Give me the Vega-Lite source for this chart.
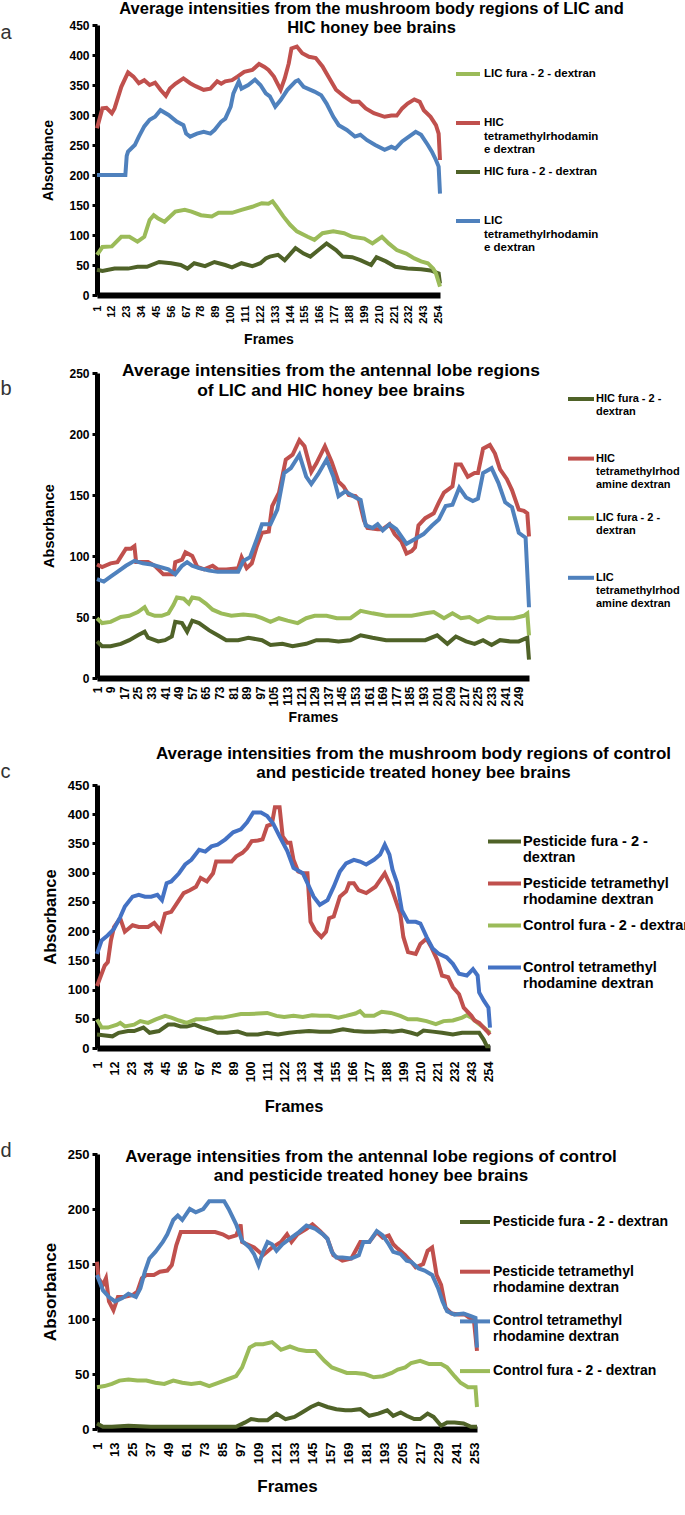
{
"$schema": "https://vega.github.io/schema/vega-lite/v6.json",
"padding": {"left": 0, "top": 0, "right": 0, "bottom": 0},
"background": "white",
"spacing": 14,
"config": {
 "font": "Liberation Sans",
 "view": {"stroke": null},
 "axis": {"domainColor": "black", "domainWidth": 5, "labelFont": "Liberation Sans", "labelFontWeight": "bold", "labelColor": "black", "titleFont": "Liberation Sans", "titleFontWeight": "bold", "titleColor": "black", "grid": false, "tickColor": "black", "labelOverlap": false, "labelBound": false, "labelFlush": false},
 "title": {"font": "Liberation Sans", "fontWeight": "bold", "color": "black", "anchor": "middle", "frame": "group"},
 "legend": {"orient": "none", "title": null, "symbolType": "stroke", "symbolStrokeWidth": 4, "labelFont": "Liberation Sans", "labelFontWeight": "bold", "labelColor": "black", "labelLimit": 400, "padding": 0}
},
"resolve": {"scale": {"x": "independent", "y": "independent", "color": "independent"}, "legend": {"color": "independent"}},
"datasets": {
 "names": [
  {"s": "LF", "series": "LIC fura - 2 - dextran"},
  {"s": "HF", "series": "HIC fura - 2 - dextran"},
  {"s": "LT", "series": "LIC tetramethylrhodamine dextran"},
  {"s": "HT", "series": "HIC tetramethylrhodamine dextran"},
  {"s": "PF", "series": "Pesticide fura - 2 - dextran"},
  {"s": "PT", "series": "Pesticide tetramethyl rhodamine dextran"},
  {"s": "CF", "series": "Control fura - 2 - dextran"},
  {"s": "CT", "series": "Control tetramethyl rhodamine dextran"}
 ],
 "a": [
  {"s":"HF","f":1,"v":42},{"s":"HF","f":5,"v":40},{"s":"HF","f":14,"v":44},{"s":"HF","f":24,"v":44},{"s":"HF","f":31,"v":47},{"s":"HF","f":38,"v":47},{"s":"HF","f":47,"v":55},{"s":"HF","f":56,"v":53},{"s":"HF","f":63,"v":50},{"s":"HF","f":68,"v":44},{"s":"HF","f":73,"v":53},{"s":"HF","f":81,"v":48},{"s":"HF","f":88,"v":55},{"s":"HF","f":96,"v":50},{"s":"HF","f":101,"v":46},{"s":"HF","f":108,"v":53},{"s":"HF","f":116,"v":48},{"s":"HF","f":122,"v":53},{"s":"HF","f":126,"v":61},{"s":"HF","f":129,"v":64},{"s":"HF","f":135,"v":67},{"s":"HF","f":140,"v":58},{"s":"HF","f":148,"v":78},{"s":"HF","f":154,"v":69},{"s":"HF","f":159,"v":64},{"s":"HF","f":165,"v":75},{"s":"HF","f":171,"v":86},{"s":"HF","f":178,"v":75},{"s":"HF","f":183,"v":64},{"s":"HF","f":190,"v":63},{"s":"HF","f":196,"v":58},{"s":"HF","f":204,"v":50},{"s":"HF","f":208,"v":63},{"s":"HF","f":215,"v":56},{"s":"HF","f":222,"v":47},{"s":"HF","f":231,"v":44},{"s":"HF","f":241,"v":43},{"s":"HF","f":248,"v":41},{"s":"HF","f":254,"v":36},{"s":"HF","f":255,"v":19},
  {"s":"LF","f":1,"v":67},{"s":"LF","f":5,"v":80},{"s":"LF","f":12,"v":81},{"s":"LF","f":19,"v":97},{"s":"LF","f":25,"v":97},{"s":"LF","f":31,"v":89},{"s":"LF","f":36,"v":97},{"s":"LF","f":38,"v":111},{"s":"LF","f":40,"v":125},{"s":"LF","f":43,"v":133},{"s":"LF","f":46,"v":128},{"s":"LF","f":51,"v":122},{"s":"LF","f":59,"v":139},{"s":"LF","f":66,"v":142},{"s":"LF","f":71,"v":139},{"s":"LF","f":78,"v":133},{"s":"LF","f":86,"v":131},{"s":"LF","f":91,"v":137},{"s":"LF","f":101,"v":137},{"s":"LF","f":108,"v":142},{"s":"LF","f":116,"v":147},{"s":"LF","f":123,"v":153},{"s":"LF","f":128,"v":152},{"s":"LF","f":131,"v":156},{"s":"LF","f":134,"v":147},{"s":"LF","f":139,"v":131},{"s":"LF","f":144,"v":117},{"s":"LF","f":149,"v":106},{"s":"LF","f":157,"v":97},{"s":"LF","f":162,"v":92},{"s":"LF","f":168,"v":103},{"s":"LF","f":176,"v":106},{"s":"LF","f":184,"v":103},{"s":"LF","f":190,"v":97},{"s":"LF","f":199,"v":94},{"s":"LF","f":205,"v":86},{"s":"LF","f":212,"v":97},{"s":"LF","f":217,"v":86},{"s":"LF","f":223,"v":75},{"s":"LF","f":230,"v":69},{"s":"LF","f":236,"v":61},{"s":"LF","f":241,"v":56},{"s":"LF","f":246,"v":53},{"s":"LF","f":250,"v":44},{"s":"LF","f":252,"v":36},{"s":"LF","f":255,"v":14},
  {"s":"HT","f":1,"v":278},{"s":"HT","f":5,"v":311},{"s":"HT","f":8,"v":312},{"s":"HT","f":12,"v":303},{"s":"HT","f":14,"v":311},{"s":"HT","f":19,"v":347},{"s":"HT","f":24,"v":371},{"s":"HT","f":28,"v":364},{"s":"HT","f":32,"v":353},{"s":"HT","f":36,"v":358},{"s":"HT","f":40,"v":350},{"s":"HT","f":44,"v":354},{"s":"HT","f":48,"v":342},{"s":"HT","f":52,"v":332},{"s":"HT","f":55,"v":344},{"s":"HT","f":59,"v":352},{"s":"HT","f":65,"v":361},{"s":"HT","f":70,"v":353},{"s":"HT","f":74,"v":348},{"s":"HT","f":80,"v":342},{"s":"HT","f":85,"v":344},{"s":"HT","f":90,"v":356},{"s":"HT","f":93,"v":352},{"s":"HT","f":96,"v":356},{"s":"HT","f":101,"v":358},{"s":"HT","f":105,"v":364},{"s":"HT","f":110,"v":372},{"s":"HT","f":116,"v":375},{"s":"HT","f":121,"v":385},{"s":"HT","f":125,"v":380},{"s":"HT","f":128,"v":375},{"s":"HT","f":132,"v":364},{"s":"HT","f":137,"v":342},{"s":"HT","f":140,"v":361},{"s":"HT","f":143,"v":386},{"s":"HT","f":145,"v":411},{"s":"HT","f":149,"v":414},{"s":"HT","f":153,"v":403},{"s":"HT","f":158,"v":397},{"s":"HT","f":163,"v":395},{"s":"HT","f":168,"v":381},{"s":"HT","f":171,"v":369},{"s":"HT","f":178,"v":342},{"s":"HT","f":184,"v":331},{"s":"HT","f":190,"v":322},{"s":"HT","f":195,"v":322},{"s":"HT","f":200,"v":311},{"s":"HT","f":206,"v":303},{"s":"HT","f":214,"v":297},{"s":"HT","f":219,"v":299},{"s":"HT","f":223,"v":299},{"s":"HT","f":227,"v":311},{"s":"HT","f":231,"v":319},{"s":"HT","f":236,"v":326},{"s":"HT","f":240,"v":322},{"s":"HT","f":243,"v":308},{"s":"HT","f":248,"v":297},{"s":"HT","f":252,"v":283},{"s":"HT","f":254,"v":269},{"s":"HT","f":255,"v":225},
  {"s":"LT","f":1,"v":200},{"s":"LT","f":22,"v":200},{"s":"LT","f":23,"v":232},{"s":"LT","f":24,"v":239},{"s":"LT","f":29,"v":250},{"s":"LT","f":32,"v":264},{"s":"LT","f":36,"v":281},{"s":"LT","f":40,"v":292},{"s":"LT","f":44,"v":297},{"s":"LT","f":48,"v":308},{"s":"LT","f":54,"v":300},{"s":"LT","f":60,"v":289},{"s":"LT","f":65,"v":283},{"s":"LT","f":67,"v":269},{"s":"LT","f":70,"v":264},{"s":"LT","f":75,"v":269},{"s":"LT","f":80,"v":272},{"s":"LT","f":85,"v":269},{"s":"LT","f":88,"v":275},{"s":"LT","f":93,"v":289},{"s":"LT","f":96,"v":294},{"s":"LT","f":100,"v":314},{"s":"LT","f":102,"v":336},{"s":"LT","f":106,"v":356},{"s":"LT","f":108,"v":344},{"s":"LT","f":113,"v":350},{"s":"LT","f":118,"v":359},{"s":"LT","f":122,"v":350},{"s":"LT","f":126,"v":336},{"s":"LT","f":129,"v":331},{"s":"LT","f":133,"v":314},{"s":"LT","f":137,"v":325},{"s":"LT","f":142,"v":342},{"s":"LT","f":148,"v":356},{"s":"LT","f":150,"v":358},{"s":"LT","f":154,"v":347},{"s":"LT","f":162,"v":339},{"s":"LT","f":167,"v":333},{"s":"LT","f":171,"v":319},{"s":"LT","f":176,"v":297},{"s":"LT","f":180,"v":283},{"s":"LT","f":186,"v":275},{"s":"LT","f":192,"v":264},{"s":"LT","f":196,"v":267},{"s":"LT","f":201,"v":258},{"s":"LT","f":207,"v":250},{"s":"LT","f":214,"v":242},{"s":"LT","f":219,"v":247},{"s":"LT","f":222,"v":244},{"s":"LT","f":227,"v":256},{"s":"LT","f":232,"v":264},{"s":"LT","f":237,"v":272},{"s":"LT","f":241,"v":267},{"s":"LT","f":246,"v":250},{"s":"LT","f":249,"v":239},{"s":"LT","f":252,"v":225},{"s":"LT","f":254,"v":214},{"s":"LT","f":255,"v":169}
 ],
 "b": [
  {"s":"HF","f":1,"v":30},{"s":"HF","f":4,"v":26},{"s":"HF","f":9,"v":26},{"s":"HF","f":15,"v":28},{"s":"HF","f":20,"v":31},{"s":"HF","f":25,"v":35},{"s":"HF","f":29,"v":38},{"s":"HF","f":31,"v":33},{"s":"HF","f":37,"v":30},{"s":"HF","f":41,"v":31},{"s":"HF","f":45,"v":34},{"s":"HF","f":47,"v":46},{"s":"HF","f":51,"v":45},{"s":"HF","f":54,"v":38},{"s":"HF","f":57,"v":47},{"s":"HF","f":61,"v":45},{"s":"HF","f":67,"v":39},{"s":"HF","f":72,"v":35},{"s":"HF","f":77,"v":31},{"s":"HF","f":84,"v":31},{"s":"HF","f":90,"v":33},{"s":"HF","f":98,"v":31},{"s":"HF","f":103,"v":27},{"s":"HF","f":110,"v":28},{"s":"HF","f":116,"v":26},{"s":"HF","f":124,"v":28},{"s":"HF","f":130,"v":31},{"s":"HF","f":137,"v":31},{"s":"HF","f":143,"v":30},{"s":"HF","f":150,"v":31},{"s":"HF","f":156,"v":35},{"s":"HF","f":163,"v":33},{"s":"HF","f":171,"v":31},{"s":"HF","f":179,"v":31},{"s":"HF","f":186,"v":31},{"s":"HF","f":194,"v":31},{"s":"HF","f":201,"v":35},{"s":"HF","f":207,"v":28},{"s":"HF","f":212,"v":34},{"s":"HF","f":218,"v":30},{"s":"HF","f":223,"v":28},{"s":"HF","f":228,"v":31},{"s":"HF","f":233,"v":27},{"s":"HF","f":238,"v":31},{"s":"HF","f":244,"v":30},{"s":"HF","f":249,"v":30},{"s":"HF","f":254,"v":33},{"s":"HF","f":255,"v":15},
  {"s":"LF","f":1,"v":49},{"s":"LF","f":4,"v":45},{"s":"LF","f":9,"v":46},{"s":"LF","f":15,"v":50},{"s":"LF","f":20,"v":51},{"s":"LF","f":25,"v":54},{"s":"LF","f":29,"v":58},{"s":"LF","f":31,"v":53},{"s":"LF","f":35,"v":51},{"s":"LF","f":39,"v":51},{"s":"LF","f":43,"v":53},{"s":"LF","f":46,"v":60},{"s":"LF","f":48,"v":66},{"s":"LF","f":52,"v":65},{"s":"LF","f":55,"v":61},{"s":"LF","f":57,"v":66},{"s":"LF","f":61,"v":65},{"s":"LF","f":65,"v":61},{"s":"LF","f":69,"v":56},{"s":"LF","f":74,"v":53},{"s":"LF","f":80,"v":51},{"s":"LF","f":87,"v":52},{"s":"LF","f":94,"v":51},{"s":"LF","f":98,"v":49},{"s":"LF","f":103,"v":46},{"s":"LF","f":108,"v":49},{"s":"LF","f":113,"v":47},{"s":"LF","f":119,"v":45},{"s":"LF","f":124,"v":49},{"s":"LF","f":129,"v":51},{"s":"LF","f":136,"v":51},{"s":"LF","f":142,"v":49},{"s":"LF","f":150,"v":49},{"s":"LF","f":156,"v":55},{"s":"LF","f":163,"v":53},{"s":"LF","f":171,"v":51},{"s":"LF","f":179,"v":51},{"s":"LF","f":186,"v":51},{"s":"LF","f":194,"v":53},{"s":"LF","f":199,"v":54},{"s":"LF","f":205,"v":49},{"s":"LF","f":210,"v":53},{"s":"LF","f":215,"v":49},{"s":"LF","f":220,"v":50},{"s":"LF","f":225,"v":46},{"s":"LF","f":231,"v":50},{"s":"LF","f":236,"v":49},{"s":"LF","f":241,"v":49},{"s":"LF","f":246,"v":49},{"s":"LF","f":252,"v":51},{"s":"LF","f":254,"v":53},{"s":"LF","f":255,"v":35},
  {"s":"HT","f":1,"v":93},{"s":"HT","f":4,"v":91},{"s":"HT","f":9,"v":94},{"s":"HT","f":13,"v":95},{"s":"HT","f":18,"v":106},{"s":"HT","f":21,"v":106},{"s":"HT","f":23,"v":108},{"s":"HT","f":24,"v":95},{"s":"HT","f":31,"v":95},{"s":"HT","f":35,"v":92},{"s":"HT","f":40,"v":85},{"s":"HT","f":46,"v":85},{"s":"HT","f":47,"v":95},{"s":"HT","f":51,"v":97},{"s":"HT","f":53,"v":103},{"s":"HT","f":57,"v":100},{"s":"HT","f":60,"v":91},{"s":"HT","f":64,"v":89},{"s":"HT","f":69,"v":92},{"s":"HT","f":72,"v":89},{"s":"HT","f":77,"v":89},{"s":"HT","f":84,"v":90},{"s":"HT","f":86,"v":99},{"s":"HT","f":89,"v":90},{"s":"HT","f":92,"v":94},{"s":"HT","f":95,"v":108},{"s":"HT","f":98,"v":119},{"s":"HT","f":102,"v":120},{"s":"HT","f":104,"v":141},{"s":"HT","f":108,"v":152},{"s":"HT","f":112,"v":179},{"s":"HT","f":116,"v":183},{"s":"HT","f":120,"v":195},{"s":"HT","f":123,"v":190},{"s":"HT","f":127,"v":169},{"s":"HT","f":130,"v":176},{"s":"HT","f":135,"v":190},{"s":"HT","f":139,"v":177},{"s":"HT","f":143,"v":161},{"s":"HT","f":146,"v":157},{"s":"HT","f":149,"v":150},{"s":"HT","f":153,"v":149},{"s":"HT","f":155,"v":146},{"s":"HT","f":158,"v":129},{"s":"HT","f":160,"v":123},{"s":"HT","f":166,"v":122},{"s":"HT","f":169,"v":122},{"s":"HT","f":173,"v":126},{"s":"HT","f":176,"v":118},{"s":"HT","f":180,"v":112},{"s":"HT","f":183,"v":102},{"s":"HT","f":186,"v":104},{"s":"HT","f":188,"v":107},{"s":"HT","f":190,"v":125},{"s":"HT","f":194,"v":131},{"s":"HT","f":199,"v":135},{"s":"HT","f":202,"v":144},{"s":"HT","f":205,"v":152},{"s":"HT","f":210,"v":157},{"s":"HT","f":212,"v":175},{"s":"HT","f":215,"v":175},{"s":"HT","f":219,"v":165},{"s":"HT","f":223,"v":168},{"s":"HT","f":225,"v":168},{"s":"HT","f":228,"v":188},{"s":"HT","f":232,"v":191},{"s":"HT","f":235,"v":184},{"s":"HT","f":238,"v":171},{"s":"HT","f":242,"v":163},{"s":"HT","f":245,"v":154},{"s":"HT","f":249,"v":138},{"s":"HT","f":252,"v":137},{"s":"HT","f":254,"v":135},{"s":"HT","f":255,"v":116},
  {"s":"LT","f":1,"v":81},{"s":"LT","f":5,"v":79},{"s":"LT","f":9,"v":83},{"s":"LT","f":13,"v":87},{"s":"LT","f":18,"v":92},{"s":"LT","f":23,"v":96},{"s":"LT","f":28,"v":94},{"s":"LT","f":33,"v":93},{"s":"LT","f":38,"v":91},{"s":"LT","f":43,"v":89},{"s":"LT","f":47,"v":85},{"s":"LT","f":51,"v":92},{"s":"LT","f":54,"v":95},{"s":"LT","f":57,"v":92},{"s":"LT","f":61,"v":90},{"s":"LT","f":67,"v":88},{"s":"LT","f":72,"v":87},{"s":"LT","f":78,"v":87},{"s":"LT","f":84,"v":87},{"s":"LT","f":87,"v":96},{"s":"LT","f":91,"v":99},{"s":"LT","f":95,"v":114},{"s":"LT","f":98,"v":126},{"s":"LT","f":103,"v":126},{"s":"LT","f":107,"v":138},{"s":"LT","f":111,"v":168},{"s":"LT","f":115,"v":172},{"s":"LT","f":120,"v":183},{"s":"LT","f":124,"v":165},{"s":"LT","f":127,"v":159},{"s":"LT","f":131,"v":167},{"s":"LT","f":136,"v":179},{"s":"LT","f":140,"v":165},{"s":"LT","f":143,"v":149},{"s":"LT","f":147,"v":153},{"s":"LT","f":153,"v":148},{"s":"LT","f":156,"v":146},{"s":"LT","f":159,"v":125},{"s":"LT","f":163,"v":123},{"s":"LT","f":166,"v":126},{"s":"LT","f":169,"v":121},{"s":"LT","f":173,"v":126},{"s":"LT","f":177,"v":122},{"s":"LT","f":183,"v":110},{"s":"LT","f":188,"v":114},{"s":"LT","f":193,"v":118},{"s":"LT","f":198,"v":125},{"s":"LT","f":202,"v":130},{"s":"LT","f":206,"v":141},{"s":"LT","f":210,"v":142},{"s":"LT","f":214,"v":156},{"s":"LT","f":218,"v":148},{"s":"LT","f":222,"v":145},{"s":"LT","f":225,"v":147},{"s":"LT","f":228,"v":168},{"s":"LT","f":233,"v":172},{"s":"LT","f":237,"v":160},{"s":"LT","f":241,"v":144},{"s":"LT","f":245,"v":140},{"s":"LT","f":249,"v":119},{"s":"LT","f":253,"v":115},{"s":"LT","f":255,"v":58}
 ],
 "c": [
  {"s":"PF","f":1,"v":23},{"s":"PF","f":5,"v":22},{"s":"PF","f":11,"v":20},{"s":"PF","f":15,"v":26},{"s":"PF","f":21,"v":29},{"s":"PF","f":25,"v":29},{"s":"PF","f":31,"v":35},{"s":"PF","f":35,"v":26},{"s":"PF","f":41,"v":29},{"s":"PF","f":47,"v":40},{"s":"PF","f":51,"v":40},{"s":"PF","f":55,"v":37},{"s":"PF","f":59,"v":37},{"s":"PF","f":64,"v":40},{"s":"PF","f":69,"v":35},{"s":"PF","f":75,"v":30},{"s":"PF","f":79,"v":26},{"s":"PF","f":85,"v":26},{"s":"PF","f":92,"v":28},{"s":"PF","f":98,"v":23},{"s":"PF","f":105,"v":23},{"s":"PF","f":111,"v":26},{"s":"PF","f":118,"v":23},{"s":"PF","f":125,"v":26},{"s":"PF","f":132,"v":28},{"s":"PF","f":138,"v":29},{"s":"PF","f":145,"v":28},{"s":"PF","f":152,"v":28},{"s":"PF","f":160,"v":32},{"s":"PF","f":167,"v":29},{"s":"PF","f":174,"v":28},{"s":"PF","f":180,"v":28},{"s":"PF","f":187,"v":29},{"s":"PF","f":192,"v":28},{"s":"PF","f":198,"v":30},{"s":"PF","f":204,"v":26},{"s":"PF","f":208,"v":23},{"s":"PF","f":212,"v":30},{"s":"PF","f":218,"v":28},{"s":"PF","f":224,"v":26},{"s":"PF","f":231,"v":23},{"s":"PF","f":237,"v":26},{"s":"PF","f":243,"v":26},{"s":"PF","f":248,"v":26},{"s":"PF","f":251,"v":14},{"s":"PF","f":253,"v":3},{"s":"PF","f":255,"v":3},
  {"s":"CF","f":1,"v":49},{"s":"CF","f":4,"v":35},{"s":"CF","f":8,"v":35},{"s":"CF","f":14,"v":40},{"s":"CF","f":16,"v":43},{"s":"CF","f":19,"v":37},{"s":"CF","f":25,"v":40},{"s":"CF","f":29,"v":46},{"s":"CF","f":34,"v":43},{"s":"CF","f":39,"v":49},{"s":"CF","f":45,"v":55},{"s":"CF","f":49,"v":52},{"s":"CF","f":54,"v":47},{"s":"CF","f":59,"v":43},{"s":"CF","f":65,"v":49},{"s":"CF","f":71,"v":49},{"s":"CF","f":77,"v":52},{"s":"CF","f":82,"v":52},{"s":"CF","f":88,"v":55},{"s":"CF","f":94,"v":58},{"s":"CF","f":99,"v":58},{"s":"CF","f":105,"v":59},{"s":"CF","f":111,"v":60},{"s":"CF","f":117,"v":55},{"s":"CF","f":122,"v":53},{"s":"CF","f":128,"v":55},{"s":"CF","f":134,"v":53},{"s":"CF","f":140,"v":56},{"s":"CF","f":145,"v":55},{"s":"CF","f":151,"v":55},{"s":"CF","f":157,"v":52},{"s":"CF","f":162,"v":55},{"s":"CF","f":168,"v":59},{"s":"CF","f":171,"v":63},{"s":"CF","f":174,"v":55},{"s":"CF","f":180,"v":55},{"s":"CF","f":185,"v":62},{"s":"CF","f":191,"v":60},{"s":"CF","f":197,"v":55},{"s":"CF","f":202,"v":49},{"s":"CF","f":208,"v":49},{"s":"CF","f":214,"v":46},{"s":"CF","f":220,"v":41},{"s":"CF","f":225,"v":46},{"s":"CF","f":231,"v":47},{"s":"CF","f":237,"v":52},{"s":"CF","f":240,"v":56},{"s":"CF","f":243,"v":52},{"s":"CF","f":247,"v":43},{"s":"CF","f":251,"v":35},{"s":"CF","f":255,"v":26},
  {"s":"PT","f":1,"v":106},{"s":"PT","f":4,"v":127},{"s":"PT","f":6,"v":141},{"s":"PT","f":8,"v":147},{"s":"PT","f":10,"v":184},{"s":"PT","f":12,"v":207},{"s":"PT","f":16,"v":222},{"s":"PT","f":19,"v":199},{"s":"PT","f":24,"v":210},{"s":"PT","f":28,"v":207},{"s":"PT","f":34,"v":207},{"s":"PT","f":38,"v":214},{"s":"PT","f":42,"v":201},{"s":"PT","f":45,"v":230},{"s":"PT","f":49,"v":233},{"s":"PT","f":54,"v":253},{"s":"PT","f":57,"v":265},{"s":"PT","f":61,"v":270},{"s":"PT","f":65,"v":276},{"s":"PT","f":68,"v":291},{"s":"PT","f":72,"v":285},{"s":"PT","f":76,"v":299},{"s":"PT","f":78,"v":319},{"s":"PT","f":82,"v":319},{"s":"PT","f":88,"v":319},{"s":"PT","f":91,"v":328},{"s":"PT","f":95,"v":334},{"s":"PT","f":98,"v":342},{"s":"PT","f":101,"v":354},{"s":"PT","f":105,"v":355},{"s":"PT","f":108,"v":357},{"s":"PT","f":111,"v":380},{"s":"PT","f":114,"v":383},{"s":"PT","f":116,"v":412},{"s":"PT","f":119,"v":412},{"s":"PT","f":121,"v":362},{"s":"PT","f":124,"v":351},{"s":"PT","f":126,"v":351},{"s":"PT","f":128,"v":322},{"s":"PT","f":131,"v":302},{"s":"PT","f":134,"v":299},{"s":"PT","f":137,"v":299},{"s":"PT","f":139,"v":216},{"s":"PT","f":142,"v":201},{"s":"PT","f":146,"v":190},{"s":"PT","f":149,"v":199},{"s":"PT","f":151,"v":222},{"s":"PT","f":154,"v":225},{"s":"PT","f":158,"v":259},{"s":"PT","f":162,"v":268},{"s":"PT","f":164,"v":282},{"s":"PT","f":167,"v":282},{"s":"PT","f":170,"v":270},{"s":"PT","f":175,"v":265},{"s":"PT","f":181,"v":276},{"s":"PT","f":187,"v":299},{"s":"PT","f":191,"v":276},{"s":"PT","f":194,"v":253},{"s":"PT","f":197,"v":230},{"s":"PT","f":199,"v":190},{"s":"PT","f":202,"v":164},{"s":"PT","f":207,"v":161},{"s":"PT","f":210,"v":178},{"s":"PT","f":214,"v":187},{"s":"PT","f":217,"v":173},{"s":"PT","f":221,"v":150},{"s":"PT","f":224,"v":124},{"s":"PT","f":228,"v":121},{"s":"PT","f":231,"v":104},{"s":"PT","f":235,"v":92},{"s":"PT","f":238,"v":69},{"s":"PT","f":243,"v":55},{"s":"PT","f":245,"v":47},{"s":"PT","f":248,"v":43},{"s":"PT","f":253,"v":29},{"s":"PT","f":255,"v":23},
  {"s":"CT","f":1,"v":161},{"s":"CT","f":4,"v":184},{"s":"CT","f":8,"v":193},{"s":"CT","f":12,"v":204},{"s":"CT","f":16,"v":224},{"s":"CT","f":19,"v":242},{"s":"CT","f":24,"v":259},{"s":"CT","f":28,"v":262},{"s":"CT","f":32,"v":259},{"s":"CT","f":36,"v":259},{"s":"CT","f":40,"v":262},{"s":"CT","f":43,"v":253},{"s":"CT","f":46,"v":282},{"s":"CT","f":49,"v":285},{"s":"CT","f":54,"v":299},{"s":"CT","f":58,"v":314},{"s":"CT","f":62,"v":322},{"s":"CT","f":67,"v":339},{"s":"CT","f":71,"v":336},{"s":"CT","f":75,"v":345},{"s":"CT","f":79,"v":348},{"s":"CT","f":84,"v":357},{"s":"CT","f":89,"v":369},{"s":"CT","f":94,"v":374},{"s":"CT","f":98,"v":386},{"s":"CT","f":102,"v":403},{"s":"CT","f":107,"v":403},{"s":"CT","f":111,"v":397},{"s":"CT","f":115,"v":383},{"s":"CT","f":119,"v":362},{"s":"CT","f":124,"v":337},{"s":"CT","f":128,"v":308},{"s":"CT","f":134,"v":299},{"s":"CT","f":137,"v":282},{"s":"CT","f":141,"v":259},{"s":"CT","f":145,"v":245},{"s":"CT","f":150,"v":253},{"s":"CT","f":154,"v":276},{"s":"CT","f":158,"v":302},{"s":"CT","f":162,"v":316},{"s":"CT","f":167,"v":322},{"s":"CT","f":171,"v":319},{"s":"CT","f":175,"v":314},{"s":"CT","f":180,"v":322},{"s":"CT","f":184,"v":331},{"s":"CT","f":187,"v":348},{"s":"CT","f":190,"v":331},{"s":"CT","f":192,"v":305},{"s":"CT","f":195,"v":282},{"s":"CT","f":198,"v":236},{"s":"CT","f":202,"v":216},{"s":"CT","f":207,"v":216},{"s":"CT","f":210,"v":213},{"s":"CT","f":214,"v":190},{"s":"CT","f":218,"v":170},{"s":"CT","f":222,"v":161},{"s":"CT","f":227,"v":155},{"s":"CT","f":231,"v":144},{"s":"CT","f":235,"v":127},{"s":"CT","f":240,"v":124},{"s":"CT","f":244,"v":135},{"s":"CT","f":247,"v":124},{"s":"CT","f":248,"v":95},{"s":"CT","f":251,"v":81},{"s":"CT","f":254,"v":69},{"s":"CT","f":255,"v":35}
 ],
 "d": [
  {"s":"PF","f":1,"v":5},{"s":"PF","f":5,"v":2},{"s":"PF","f":11,"v":2},{"s":"PF","f":22,"v":3},{"s":"PF","f":37,"v":2},{"s":"PF","f":52,"v":2},{"s":"PF","f":67,"v":2},{"s":"PF","f":82,"v":2},{"s":"PF","f":94,"v":2},{"s":"PF","f":100,"v":6},{"s":"PF","f":104,"v":9},{"s":"PF","f":109,"v":8},{"s":"PF","f":115,"v":8},{"s":"PF","f":121,"v":14},{"s":"PF","f":127,"v":9},{"s":"PF","f":133,"v":11},{"s":"PF","f":138,"v":15},{"s":"PF","f":144,"v":20},{"s":"PF","f":149,"v":23},{"s":"PF","f":155,"v":20},{"s":"PF","f":161,"v":18},{"s":"PF","f":167,"v":17},{"s":"PF","f":171,"v":17},{"s":"PF","f":177,"v":18},{"s":"PF","f":183,"v":12},{"s":"PF","f":189,"v":14},{"s":"PF","f":195,"v":17},{"s":"PF","f":199,"v":12},{"s":"PF","f":204,"v":15},{"s":"PF","f":208,"v":12},{"s":"PF","f":213,"v":9},{"s":"PF","f":217,"v":9},{"s":"PF","f":222,"v":14},{"s":"PF","f":226,"v":11},{"s":"PF","f":231,"v":3},{"s":"PF","f":235,"v":6},{"s":"PF","f":240,"v":6},{"s":"PF","f":246,"v":5},{"s":"PF","f":251,"v":2},{"s":"PF","f":255,"v":2},
  {"s":"CF","f":1,"v":38},{"s":"CF","f":6,"v":39},{"s":"CF","f":11,"v":41},{"s":"CF","f":16,"v":44},{"s":"CF","f":22,"v":45},{"s":"CF","f":28,"v":44},{"s":"CF","f":34,"v":44},{"s":"CF","f":40,"v":42},{"s":"CF","f":46,"v":41},{"s":"CF","f":52,"v":44},{"s":"CF","f":58,"v":42},{"s":"CF","f":64,"v":41},{"s":"CF","f":70,"v":42},{"s":"CF","f":76,"v":39},{"s":"CF","f":82,"v":42},{"s":"CF","f":88,"v":45},{"s":"CF","f":94,"v":48},{"s":"CF","f":98,"v":56},{"s":"CF","f":103,"v":74},{"s":"CF","f":107,"v":77},{"s":"CF","f":112,"v":77},{"s":"CF","f":118,"v":79},{"s":"CF","f":124,"v":72},{"s":"CF","f":130,"v":75},{"s":"CF","f":136,"v":72},{"s":"CF","f":141,"v":71},{"s":"CF","f":147,"v":71},{"s":"CF","f":153,"v":62},{"s":"CF","f":158,"v":56},{"s":"CF","f":162,"v":54},{"s":"CF","f":168,"v":51},{"s":"CF","f":174,"v":51},{"s":"CF","f":180,"v":50},{"s":"CF","f":186,"v":47},{"s":"CF","f":192,"v":48},{"s":"CF","f":198,"v":51},{"s":"CF","f":202,"v":54},{"s":"CF","f":207,"v":56},{"s":"CF","f":211,"v":60},{"s":"CF","f":217,"v":62},{"s":"CF","f":223,"v":59},{"s":"CF","f":228,"v":59},{"s":"CF","f":231,"v":59},{"s":"CF","f":235,"v":56},{"s":"CF","f":240,"v":48},{"s":"CF","f":244,"v":42},{"s":"CF","f":249,"v":38},{"s":"CF","f":254,"v":38},{"s":"CF","f":255,"v":20},
  {"s":"PT","f":1,"v":152},{"s":"PT","f":2,"v":137},{"s":"PT","f":5,"v":131},{"s":"PT","f":7,"v":137},{"s":"PT","f":9,"v":116},{"s":"PT","f":12,"v":108},{"s":"PT","f":15,"v":120},{"s":"PT","f":19,"v":120},{"s":"PT","f":25,"v":122},{"s":"PT","f":28,"v":125},{"s":"PT","f":31,"v":137},{"s":"PT","f":34,"v":140},{"s":"PT","f":39,"v":140},{"s":"PT","f":43,"v":143},{"s":"PT","f":48,"v":144},{"s":"PT","f":51,"v":149},{"s":"PT","f":54,"v":167},{"s":"PT","f":57,"v":179},{"s":"PT","f":64,"v":179},{"s":"PT","f":73,"v":179},{"s":"PT","f":80,"v":179},{"s":"PT","f":85,"v":177},{"s":"PT","f":89,"v":174},{"s":"PT","f":94,"v":176},{"s":"PT","f":97,"v":186},{"s":"PT","f":98,"v":170},{"s":"PT","f":106,"v":165},{"s":"PT","f":112,"v":158},{"s":"PT","f":118,"v":165},{"s":"PT","f":124,"v":170},{"s":"PT","f":128,"v":177},{"s":"PT","f":131,"v":170},{"s":"PT","f":135,"v":177},{"s":"PT","f":141,"v":182},{"s":"PT","f":145,"v":186},{"s":"PT","f":150,"v":180},{"s":"PT","f":155,"v":173},{"s":"PT","f":159,"v":158},{"s":"PT","f":165,"v":153},{"s":"PT","f":171,"v":155},{"s":"PT","f":177,"v":170},{"s":"PT","f":183,"v":170},{"s":"PT","f":188,"v":179},{"s":"PT","f":192,"v":174},{"s":"PT","f":196,"v":176},{"s":"PT","f":199,"v":168},{"s":"PT","f":202,"v":164},{"s":"PT","f":207,"v":158},{"s":"PT","f":211,"v":152},{"s":"PT","f":214,"v":147},{"s":"PT","f":219,"v":150},{"s":"PT","f":222,"v":162},{"s":"PT","f":225,"v":165},{"s":"PT","f":228,"v":140},{"s":"PT","f":231,"v":131},{"s":"PT","f":234,"v":110},{"s":"PT","f":238,"v":105},{"s":"PT","f":243,"v":104},{"s":"PT","f":247,"v":104},{"s":"PT","f":253,"v":98},{"s":"PT","f":255,"v":71},
  {"s":"CT","f":1,"v":140},{"s":"CT","f":5,"v":126},{"s":"CT","f":9,"v":120},{"s":"CT","f":13,"v":116},{"s":"CT","f":18,"v":119},{"s":"CT","f":22,"v":123},{"s":"CT","f":27,"v":120},{"s":"CT","f":30,"v":128},{"s":"CT","f":33,"v":143},{"s":"CT","f":36,"v":155},{"s":"CT","f":40,"v":161},{"s":"CT","f":45,"v":170},{"s":"CT","f":48,"v":177},{"s":"CT","f":52,"v":190},{"s":"CT","f":55,"v":194},{"s":"CT","f":58,"v":190},{"s":"CT","f":63,"v":200},{"s":"CT","f":67,"v":197},{"s":"CT","f":72,"v":200},{"s":"CT","f":76,"v":207},{"s":"CT","f":82,"v":207},{"s":"CT","f":86,"v":207},{"s":"CT","f":89,"v":200},{"s":"CT","f":94,"v":186},{"s":"CT","f":98,"v":171},{"s":"CT","f":103,"v":165},{"s":"CT","f":106,"v":159},{"s":"CT","f":109,"v":149},{"s":"CT","f":112,"v":161},{"s":"CT","f":115,"v":170},{"s":"CT","f":118,"v":168},{"s":"CT","f":121,"v":162},{"s":"CT","f":125,"v":168},{"s":"CT","f":130,"v":173},{"s":"CT","f":136,"v":179},{"s":"CT","f":141,"v":185},{"s":"CT","f":147,"v":182},{"s":"CT","f":152,"v":177},{"s":"CT","f":155,"v":173},{"s":"CT","f":158,"v":161},{"s":"CT","f":161,"v":156},{"s":"CT","f":165,"v":156},{"s":"CT","f":171,"v":155},{"s":"CT","f":176,"v":158},{"s":"CT","f":179,"v":170},{"s":"CT","f":183,"v":170},{"s":"CT","f":188,"v":180},{"s":"CT","f":192,"v":176},{"s":"CT","f":196,"v":168},{"s":"CT","f":199,"v":161},{"s":"CT","f":204,"v":159},{"s":"CT","f":208,"v":153},{"s":"CT","f":211,"v":152},{"s":"CT","f":216,"v":146},{"s":"CT","f":220,"v":144},{"s":"CT","f":225,"v":140},{"s":"CT","f":229,"v":128},{"s":"CT","f":232,"v":116},{"s":"CT","f":235,"v":107},{"s":"CT","f":240,"v":104},{"s":"CT","f":246,"v":105},{"s":"CT","f":250,"v":103},{"s":"CT","f":254,"v":101},{"s":"CT","f":255,"v":74}
 ]
},
"vconcat": [
 {
  "data": {"name": "a"},
  "transform": [{"lookup": "s", "from": {"data": {"name": "names"}, "key": "s", "fields": ["series"]}}],
  "width": 343, "height": 270,
  "title": {"text": ["Average intensities from the mushroom body regions of LIC and", "HIC honey bee brains"], "fontSize": 16.5, "lineHeight": 19, "dx": 103, "offset": -17},
  "resolve": {"axis": {"y": "independent"}},
  "layer": [
   {
    "mark": {"type": "line", "strokeWidth": 4},
    "encoding": {
     "x": {"field": "f", "type": "quantitative", "scale": {"domain": [1, 255], "nice": false, "zero": false},
      "axis": {"values": [1,12,23,34,45,56,67,78,89,100,111,122,133,144,155,166,177,188,199,210,221,232,243,254], "labelAngle": -90, "labelFontSize": 11, "ticks": false, "tickSize": 0, "labelPadding": 10, "domainWidth": 6, "title": "Frames", "titleFontSize": 14, "titlePadding": 9}},
     "y": {"field": "v", "type": "quantitative", "scale": {"domain": [0, 450], "nice": false},
      "axis": {"values": [0,50,100,150,200,250,300,350,400,450], "labelFontSize": 12, "tickSize": 5, "tickWidth": 3, "labelPadding": 3, "title": "Absorbance", "titleFontSize": 14, "titlePadding": 13}},
     "color": {"field": "series", "type": "nominal",
      "scale": {"domain": ["LIC fura - 2 - dextran", "HIC tetramethylrhodamine dextran", "HIC fura - 2 - dextran", "LIC tetramethylrhodamine dextran"], "range": ["#9BBB59", "#C0504D", "#4F6228", "#4F81BD"]},
      "legend": {"legendX": 357, "legendY": 35, "symbolSize": 576, "labelFontSize": 11.5, "labelOffset": 2, "rowPadding": 2,
       "labelExpr": "datum.label == 'HIC tetramethylrhodamine dextran' ? ['HIC','tetramethylrhodamin','e dextran'] : datum.label == 'LIC tetramethylrhodamine dextran' ? ['LIC','tetramethylrhodamin','e dextran'] : [datum.label,'','']"}}
    }
   },
   {
    "mark": {"type": "point", "opacity": 0},
    "encoding": {
     "y": {"field": "v", "type": "quantitative", "axis": {"orient": "left", "domain": false, "ticks": false, "labels": false, "title": "a", "titleX": -97, "titleY": 7, "titleAngle": 0, "titleAlign": "left", "titleBaseline": "middle", "titleFontWeight": "normal", "titleFontSize": 20, "titleColor": "#333333"}}
    }
   }
  ]
 },
 {
  "data": {"name": "b"},
  "transform": [{"lookup": "s", "from": {"data": {"name": "names"}, "key": "s", "fields": ["series"]}}],
  "width": 432, "height": 305,
  "title": {"text": ["Average intensities from the antennal lobe regions", "of LIC and HIC honey bee brains"], "fontSize": 17.4, "lineHeight": 20, "dx": 18, "offset": -32},
  "resolve": {"axis": {"y": "independent"}},
  "layer": [
   {
    "mark": {"type": "line", "strokeWidth": 4},
    "encoding": {
     "x": {"field": "f", "type": "quantitative", "scale": {"domain": [1, 255], "nice": false, "zero": false},
      "axis": {"values": [1,9,17,25,33,41,49,57,65,73,81,89,97,105,113,121,129,137,145,153,161,169,177,185,193,201,209,217,225,233,241,249], "labelAngle": -90, "labelFontSize": 12, "ticks": false, "tickSize": 0, "labelPadding": 8, "domainWidth": 6, "title": ["Frames", ""], "titleLineHeight": 6, "titleFontSize": 14, "titlePadding": 4}},
     "y": {"field": "v", "type": "quantitative", "scale": {"domain": [0, 250], "nice": false},
      "axis": {"values": [0,50,100,150,200,250], "labelFontSize": 12, "tickSize": 5, "tickWidth": 3, "labelPadding": 3, "title": "Absorbance", "titleFontSize": 14.5, "titlePadding": 12}},
     "color": {"field": "series", "type": "nominal",
      "scale": {"domain": ["HIC fura - 2 - dextran", "HIC tetramethylrhodamine dextran", "LIC fura - 2 - dextran", "LIC tetramethylrhodamine dextran"], "range": ["#4F6228", "#C0504D", "#9BBB59", "#4F81BD"]},
      "legend": {"legendX": 469, "legendY": 11, "symbolSize": 676, "labelFontSize": 11, "labelOffset": 0, "rowPadding": 13.6,
       "labelExpr": "datum.label == 'HIC fura - 2 - dextran' ? ['HIC fura - 2 -','dextran',''] : datum.label == 'LIC fura - 2 - dextran' ? ['LIC fura - 2 -','dextran',''] : datum.label == 'HIC tetramethylrhodamine dextran' ? ['HIC','tetramethylrhod','amine dextran'] : ['LIC','tetramethylrhod','amine dextran']"}}
    }
   },
   {
    "mark": {"type": "point", "opacity": 0},
    "encoding": {
     "y": {"field": "v", "type": "quantitative", "axis": {"orient": "left", "domain": false, "ticks": false, "labels": false, "title": "b", "titleX": -97, "titleY": 15, "titleAngle": 0, "titleAlign": "left", "titleBaseline": "middle", "titleFontWeight": "normal", "titleFontSize": 20, "titleColor": "#333333"}}
    }
   }
  ]
 },
 {
  "data": {"name": "c"},
  "transform": [{"lookup": "s", "from": {"data": {"name": "names"}, "key": "s", "fields": ["series"]}}],
  "width": 393, "height": 263,
  "title": {"text": ["Average intensities from the mushroom body regions of control", "and pesticide treated honey bee brains"], "fontSize": 17, "lineHeight": 19, "dx": 120, "offset": -21},
  "resolve": {"axis": {"y": "independent"}},
  "layer": [
   {
    "mark": {"type": "line", "strokeWidth": 4},
    "encoding": {
     "x": {"field": "f", "type": "quantitative", "scale": {"domain": [1, 255], "nice": false, "zero": false},
      "axis": {"values": [1,12,23,34,45,56,67,78,89,100,111,122,133,144,155,166,177,188,199,210,221,232,243,254], "labelAngle": -90, "labelFontSize": 12.5, "ticks": false, "tickSize": 0, "labelPadding": 13, "domainWidth": 6, "title": ["Frames", ""], "titleLineHeight": 10.5, "titleFontSize": 16.5, "titlePadding": 17}},
     "y": {"field": "v", "type": "quantitative", "scale": {"domain": [0, 450], "nice": false},
      "axis": {"values": [0,50,100,150,200,250,300,350,400,450], "labelFontSize": 13, "tickSize": 5, "tickWidth": 3, "labelPadding": 3, "title": "Absorbance", "titleFontSize": 16.5, "titlePadding": 9}},
     "color": {"field": "series", "type": "nominal",
      "scale": {"domain": ["Pesticide fura - 2 - dextran", "Pesticide tetramethyl rhodamine dextran", "Control fura - 2 - dextran", "Control tetramethyl rhodamine dextran"], "range": ["#4F6228", "#C0504D", "#9BBB59", "#4472C4"]},
      "legend": {"legendX": 389, "legendY": 38, "symbolSize": 1089, "labelFontSize": 14.5, "labelOffset": 0, "rowPadding": -4,
       "labelExpr": "datum.label == 'Pesticide fura - 2 - dextran' ? ['Pesticide fura - 2 -','dextran'] : datum.label == 'Pesticide tetramethyl rhodamine dextran' ? ['Pesticide tetramethyl','rhodamine dextran'] : datum.label == 'Control tetramethyl rhodamine dextran' ? ['Control tetramethyl','rhodamine dextran'] : [datum.label,'']"}}
    }
   },
   {
    "mark": {"type": "point", "opacity": 0},
    "encoding": {
     "y": {"field": "v", "type": "quantitative", "axis": {"orient": "left", "domain": false, "ticks": false, "labels": false, "title": "c", "titleX": -97, "titleY": -14, "titleAngle": 0, "titleAlign": "left", "titleBaseline": "middle", "titleFontWeight": "normal", "titleFontSize": 20, "titleColor": "#333333"}}
    }
   }
  ]
 },
 {
  "data": {"name": "d"},
  "transform": [{"lookup": "s", "from": {"data": {"name": "names"}, "key": "s", "fields": ["series"]}}],
  "width": 380, "height": 275,
  "title": {"text": ["Average intensities from the antennal lobe regions of control", "and pesticide treated honey bee brains"], "fontSize": 17, "lineHeight": 19, "dx": 84, "offset": -45},
  "resolve": {"axis": {"y": "independent"}},
  "layer": [
   {
    "mark": {"type": "line", "strokeWidth": 4},
    "encoding": {
     "x": {"field": "f", "type": "quantitative", "scale": {"domain": [1, 255], "nice": false, "zero": false},
      "axis": {"values": [1,13,25,37,49,61,73,85,97,109,121,133,145,157,169,181,193,205,217,229,241,253], "labelAngle": -90, "labelFontSize": 13, "ticks": false, "tickSize": 0, "labelPadding": 13, "domainWidth": 6, "title": "Frames", "titleFontSize": 17, "titlePadding": 15}},
     "y": {"field": "v", "type": "quantitative", "scale": {"domain": [0, 250], "nice": false},
      "axis": {"values": [0,50,100,150,200,250], "labelFontSize": 13, "tickSize": 5, "tickWidth": 3, "labelPadding": 3, "title": "Absorbance", "titleFontSize": 17, "titlePadding": 8}},
     "color": {"field": "series", "type": "nominal",
      "scale": {"domain": ["Pesticide fura - 2 - dextran", "Pesticide tetramethyl rhodamine dextran", "Control tetramethyl rhodamine dextran", "Control fura - 2 - dextran"], "range": ["#4F6228", "#C0504D", "#4F81BD", "#9BBB59"]},
      "legend": {"legendX": 361, "legendY": 51, "symbolSize": 900, "labelFontSize": 14, "labelOffset": 1, "rowPadding": 9.7,
       "labelExpr": "datum.label == 'Pesticide tetramethyl rhodamine dextran' ? ['Pesticide tetramethyl','rhodamine dextran'] : datum.label == 'Control tetramethyl rhodamine dextran' ? ['Control tetramethyl','rhodamine dextran'] : [datum.label,'']"}}
    }
   },
   {
    "mark": {"type": "point", "opacity": 0},
    "encoding": {
     "y": {"field": "v", "type": "quantitative", "axis": {"orient": "left", "domain": false, "ticks": false, "labels": false, "title": "d", "titleX": -97, "titleY": -4, "titleAngle": 0, "titleAlign": "left", "titleBaseline": "middle", "titleFontWeight": "normal", "titleFontSize": 20, "titleColor": "#333333"}}
    }
   }
  ]
 }
]
}
